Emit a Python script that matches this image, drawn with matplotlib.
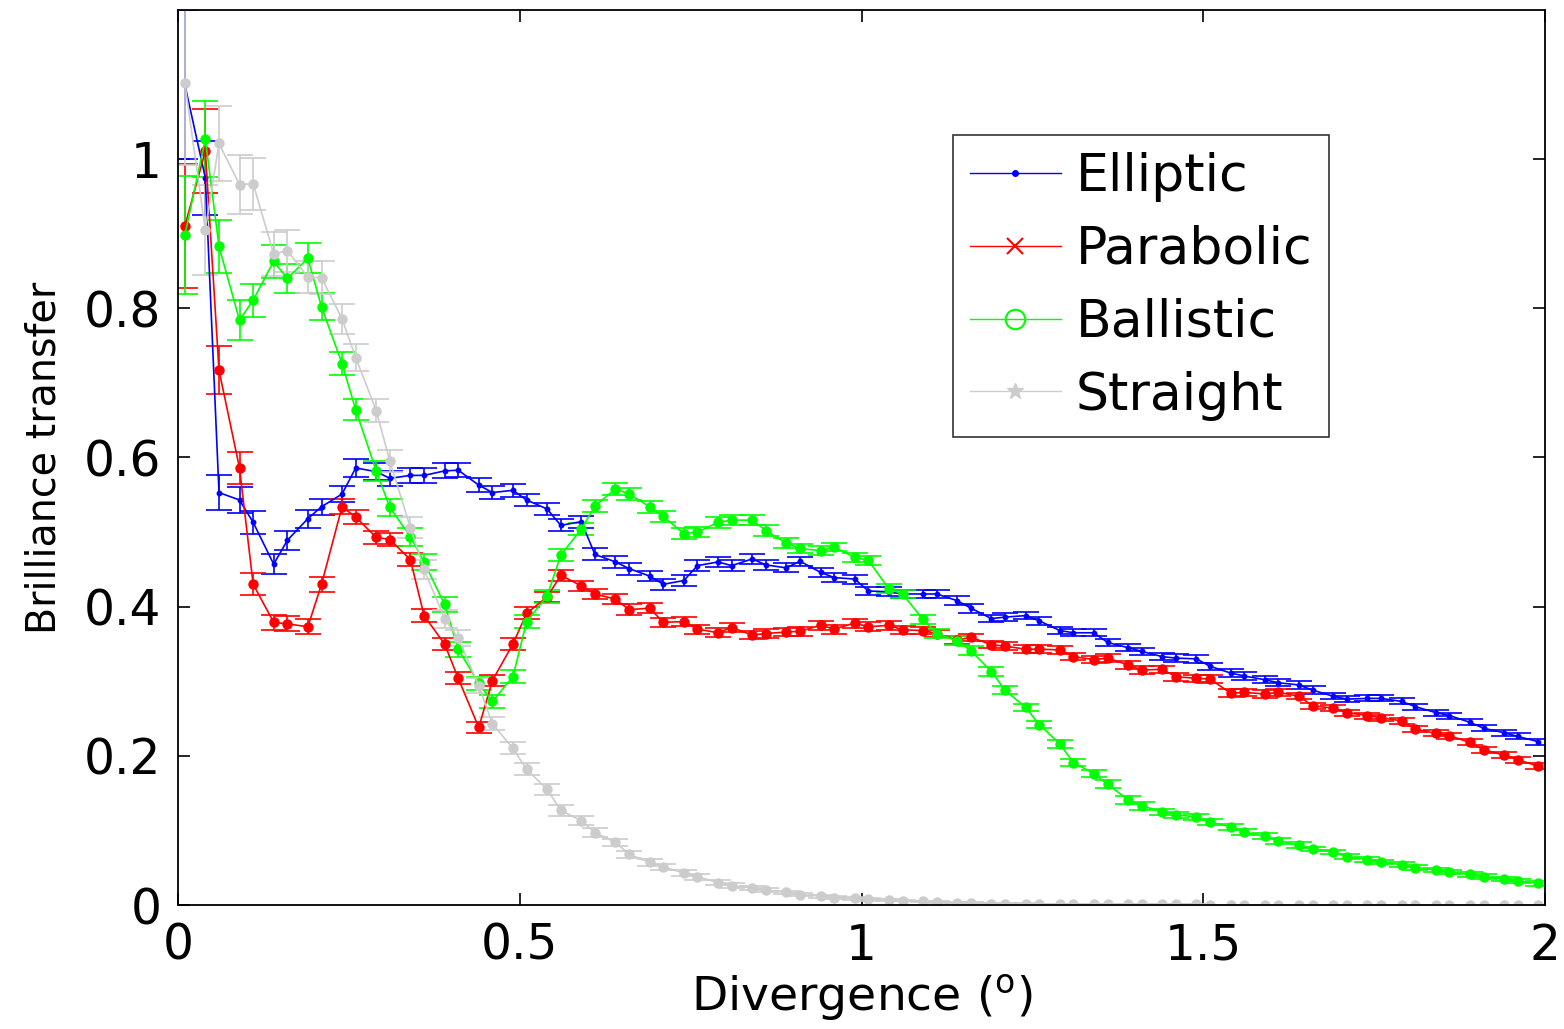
import matplotlib
matplotlib.use("Agg")
import matplotlib.pyplot as plt
from matplotlib.lines import Line2D

plt.rcParams['font.family'] = ['DejaVu Sans']

divergence = [0.01, 0.04, 0.06, 0.09, 0.11, 0.14, 0.16, 0.19, 0.21, 0.24, 0.26, 0.29, 0.31, 0.34, 0.36,
              0.39, 0.41, 0.44, 0.46, 0.49, 0.51, 0.54, 0.56, 0.59, 0.61, 0.64, 0.66, 0.69, 0.71, 0.74,
              0.76, 0.79, 0.81, 0.84, 0.86, 0.89, 0.91, 0.94, 0.96, 0.99, 1.01, 1.04, 1.06, 1.09, 1.11,
              1.14, 1.16, 1.19, 1.21, 1.24, 1.26, 1.29, 1.31, 1.34, 1.36, 1.39, 1.41, 1.44, 1.46, 1.49,
              1.51, 1.54, 1.56, 1.59, 1.61, 1.64, 1.66, 1.69, 1.71, 1.74, 1.76, 1.79, 1.81, 1.84, 1.86,
              1.89, 1.91, 1.94, 1.96, 1.99]

elliptic = [1.100, 0.975, 0.553, 0.543, 0.513, 0.457, 0.489, 0.518, 0.534, 0.551, 0.586, 0.581, 0.572, 0.576, 0.576,
            0.582, 0.583, 0.563, 0.553, 0.556, 0.543, 0.531, 0.509, 0.514, 0.470, 0.460, 0.451, 0.441, 0.430, 0.435,
            0.455, 0.460, 0.455, 0.464, 0.456, 0.452, 0.461, 0.446, 0.439, 0.437, 0.421, 0.420, 0.417, 0.417, 0.417,
            0.408, 0.398, 0.384, 0.386, 0.388, 0.381, 0.368, 0.365, 0.365, 0.352, 0.345, 0.340, 0.333, 0.331, 0.330,
            0.320, 0.311, 0.307, 0.302, 0.298, 0.295, 0.288, 0.280, 0.276, 0.277, 0.277, 0.273, 0.266, 0.258, 0.254,
            0.245, 0.237, 0.231, 0.226, 0.219]
elliptic_err = [0.100, 0.050, 0.023, 0.018, 0.015, 0.013, 0.013, 0.012, 0.011, 0.011, 0.012, 0.011, 0.010, 0.010, 0.010,
                0.010, 0.009, 0.009, 0.009, 0.009, 0.008, 0.008, 0.008, 0.008, 0.008, 0.008, 0.008, 0.007, 0.007, 0.007,
                0.007, 0.007, 0.007, 0.007, 0.007, 0.006, 0.006, 0.006, 0.006, 0.006, 0.006, 0.006, 0.006, 0.006, 0.006,
                0.006, 0.006, 0.005, 0.005, 0.005, 0.005, 0.005, 0.005, 0.005, 0.005, 0.005, 0.005, 0.005, 0.005, 0.005,
                0.005, 0.005, 0.005, 0.005, 0.005, 0.005, 0.005, 0.004, 0.004, 0.004, 0.004, 0.004, 0.004, 0.004, 0.004,
                0.004, 0.004, 0.004, 0.004, 0.004]

parabolic = [0.910, 1.011, 0.717, 0.586, 0.430, 0.379, 0.377, 0.373, 0.430, 0.534, 0.520, 0.493, 0.490, 0.463, 0.388,
             0.350, 0.304, 0.238, 0.301, 0.350, 0.391, 0.413, 0.442, 0.428, 0.417, 0.410, 0.396, 0.398, 0.379, 0.380,
             0.370, 0.365, 0.372, 0.362, 0.364, 0.366, 0.367, 0.375, 0.370, 0.378, 0.373, 0.375, 0.369, 0.368, 0.364,
             0.355, 0.359, 0.349, 0.347, 0.343, 0.343, 0.342, 0.333, 0.329, 0.331, 0.322, 0.315, 0.316, 0.306, 0.304,
             0.303, 0.284, 0.285, 0.283, 0.285, 0.280, 0.267, 0.264, 0.258, 0.254, 0.251, 0.247, 0.236, 0.230, 0.227,
             0.218, 0.208, 0.201, 0.195, 0.186]
parabolic_err = [0.083, 0.056, 0.032, 0.022, 0.015, 0.010, 0.010, 0.010, 0.010, 0.010, 0.009, 0.009, 0.009, 0.009, 0.009,
                 0.008, 0.008, 0.008, 0.008, 0.008, 0.008, 0.007, 0.007, 0.007, 0.007, 0.007, 0.007, 0.007, 0.006, 0.006,
                 0.006, 0.006, 0.006, 0.006, 0.006, 0.006, 0.006, 0.006, 0.006, 0.006, 0.006, 0.006, 0.005, 0.005, 0.005,
                 0.005, 0.005, 0.005, 0.005, 0.005, 0.005, 0.005, 0.005, 0.005, 0.005, 0.005, 0.005, 0.005, 0.005, 0.005,
                 0.005, 0.005, 0.005, 0.005, 0.005, 0.004, 0.004, 0.004, 0.004, 0.004, 0.004, 0.004, 0.004, 0.004, 0.004,
                 0.004, 0.004, 0.004, 0.004, 0.004]

ballistic = [0.898, 1.027, 0.883, 0.784, 0.811, 0.863, 0.840, 0.867, 0.802, 0.726, 0.664, 0.582, 0.533, 0.494, 0.460,
             0.403, 0.343, 0.297, 0.273, 0.306, 0.380, 0.414, 0.469, 0.504, 0.535, 0.558, 0.551, 0.534, 0.521, 0.498,
             0.500, 0.513, 0.516, 0.516, 0.502, 0.485, 0.478, 0.475, 0.480, 0.466, 0.462, 0.424, 0.417, 0.383, 0.364,
             0.354, 0.341, 0.313, 0.288, 0.265, 0.242, 0.216, 0.191, 0.176, 0.162, 0.141, 0.133, 0.125, 0.121, 0.118,
             0.111, 0.105, 0.098, 0.092, 0.086, 0.080, 0.075, 0.071, 0.065, 0.061, 0.058, 0.054, 0.050, 0.047, 0.044,
             0.041, 0.038, 0.035, 0.032, 0.029]
ballistic_err = [0.079, 0.051, 0.035, 0.027, 0.022, 0.022, 0.020, 0.020, 0.018, 0.015, 0.014, 0.013, 0.012, 0.012, 0.011,
                 0.010, 0.010, 0.009, 0.009, 0.009, 0.009, 0.009, 0.008, 0.008, 0.008, 0.008, 0.008, 0.008, 0.007, 0.007,
                 0.007, 0.007, 0.007, 0.007, 0.007, 0.007, 0.006, 0.006, 0.006, 0.006, 0.006, 0.006, 0.006, 0.006, 0.006,
                 0.006, 0.006, 0.006, 0.005, 0.005, 0.005, 0.005, 0.005, 0.005, 0.005, 0.005, 0.005, 0.004, 0.004, 0.004,
                 0.004, 0.004, 0.004, 0.004, 0.004, 0.004, 0.003, 0.003, 0.003, 0.003, 0.003, 0.003, 0.003, 0.003, 0.003,
                 0.003, 0.003, 0.003, 0.003, 0.003]

straight = [1.102, 0.905, 1.021, 0.966, 0.967, 0.873, 0.877, 0.842, 0.841, 0.786, 0.734, 0.663, 0.595, 0.506, 0.450,
            0.384, 0.358, 0.294, 0.243, 0.210, 0.182, 0.155, 0.127, 0.113, 0.097, 0.084, 0.068, 0.057, 0.051, 0.043,
            0.038, 0.030, 0.026, 0.023, 0.020, 0.017, 0.014, 0.012, 0.010, 0.009, 0.008, 0.007, 0.006, 0.005, 0.004,
            0.003, 0.003, 0.002, 0.002, 0.002, 0.001, 0.001, 0.001, 0.001, 0.001, 0.001, 0.001, 0.001, 0.001, 0.001,
            0.000, 0.000, 0.000, 0.000, 0.000, 0.000, 0.000, 0.000, 0.000, 0.000, 0.000, 0.000, 0.000, 0.000, 0.000,
            0.000, 0.000, 0.000, 0.000, 0.000]
straight_err = [0.110, 0.060, 0.050, 0.039, 0.035, 0.029, 0.028, 0.022, 0.022, 0.020, 0.018, 0.016, 0.015, 0.014, 0.013,
                0.012, 0.011, 0.010, 0.009, 0.008, 0.008, 0.007, 0.007, 0.006, 0.006, 0.005, 0.005, 0.005, 0.004, 0.004,
                0.004, 0.003, 0.003, 0.003, 0.003, 0.002, 0.002, 0.002, 0.002, 0.002, 0.002, 0.001, 0.001, 0.001, 0.001,
                0.001, 0.001, 0.001, 0.001, 0.001, 0.001, 0.001, 0.001, 0.001, 0.001, 0.001, 0.001, 0.001, 0.001, 0.001,
                0.000, 0.000, 0.000, 0.000, 0.000, 0.000, 0.000, 0.000, 0.000, 0.000, 0.000, 0.000, 0.000, 0.000, 0.000,
                0.000, 0.000, 0.000, 0.000, 0.000]

series_names = ["Elliptic", "Parabolic", "Ballistic", "Straight"]
x_ticks = [0, 0.5, 1, 1.5, 2]
x_tick_labels = ["0", "0.5", "1", "1.5", "2"]
y_ticks = [0, 0.2, 0.4, 0.6, 0.8, 1.0]
y_tick_labels = ["0", "0.2", "0.4", "0.6", "0.8", "1"]

fig = plt.figure(figsize=(15.64, 10.29), dpi=100)
ax = fig.add_axes([0.1138, 0.1205, 0.8741, 0.8698])

colors = ["#0000ff", "#ff0000", "#00ff00", "#cccccc"]
data = [(elliptic, elliptic_err, 3.2), (parabolic, parabolic_err, 6.5),
        (ballistic, ballistic_err, 6.5), (straight, straight_err, 6.5)]
for (vals, errs, ms), col in zip(data, colors):
    ax.errorbar(divergence, vals, yerr=errs, color=col, marker='o', markersize=ms,
                markerfacecolor=col, markeredgecolor=col,
                linewidth=1.2, elinewidth=1.2, capsize=9.5, capthick=1.2)

ax.set_xlim(0, 2)
ax.set_ylim(0, 1.2)
ax.set_xticks(x_ticks)
ax.set_xticklabels(x_tick_labels)
ax.set_yticks(y_ticks)
ax.set_yticklabels(y_tick_labels)
ax.tick_params(direction='in', top=True, right=True, length=8.5, width=1.2,
               labelsize=35, pad=12)
for sp in ax.spines.values():
    sp.set_linewidth(1.3)

ax.set_xlabel(r"Divergence ($^{\mathrm{o}}$)", fontsize=34, labelpad=2)
ax.set_ylabel("Brilliance transfer", fontsize=28.5, labelpad=14)

handles = [
    Line2D([], [], color="#0000ff", marker='.', markersize=8, linewidth=1.0),
    Line2D([], [], color="#ff0000", marker='x', markersize=11, markeredgewidth=1.5, linewidth=1.0),
    Line2D([], [], color="#00ff00", marker='o', markersize=14, markerfacecolor='none',
           markeredgewidth=1.5, linewidth=1.0),
    Line2D([], [], color="#cccccc", marker='*', markersize=12, linewidth=1.0),
]
leg = ax.legend(handles, series_names, loc='upper left', bbox_to_anchor=(0.567, 0.860),
                fontsize=37.5, frameon=True, fancybox=False, edgecolor='black',
                handlelength=1.75, handletextpad=0.28, labelspacing=0.44, borderpad=0.32,
                borderaxespad=0)
leg.get_frame().set_linewidth(1.2)

fig.savefig("out.png", dpi=100)
